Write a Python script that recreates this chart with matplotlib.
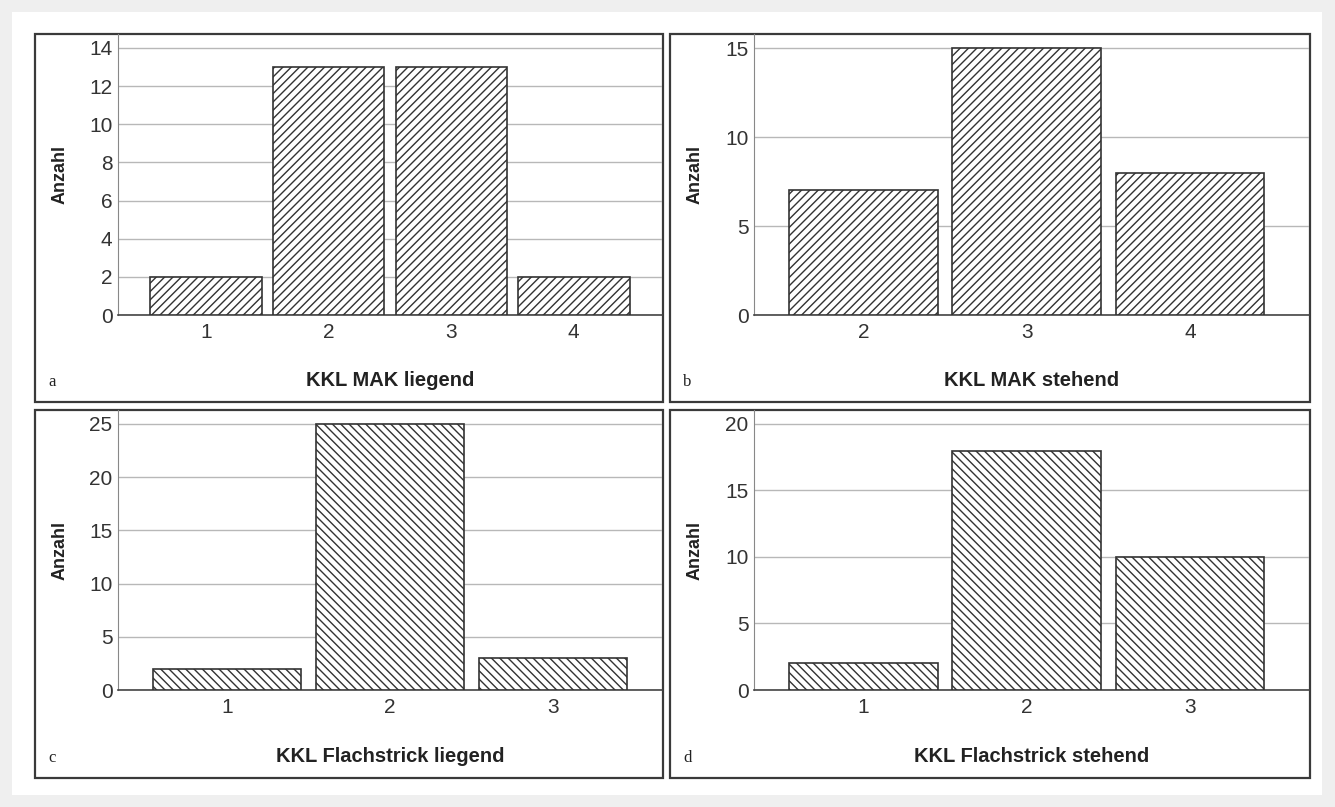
import matplotlib
matplotlib.use("Agg")
import matplotlib.pyplot as plt
from matplotlib.patches import Rectangle

# Häufigkeiten je Kategorie
kat_a = [1, 2, 3, 4]
anz_a = [2, 13, 13, 2]
kat_b = [2, 3, 4]
anz_b = [7, 15, 8]
kat_c = [1, 2, 3]
anz_c = [2, 25, 3]
kat_d = [1, 2, 3]
anz_d = [2, 18, 10]

titel = ["KKL MAK liegend", "KKL MAK stehend",
         "KKL Flachstrick liegend", "KKL Flachstrick stehend"]
buchst = ["a", "b", "c", "d"]
yticks = [[0, 2, 4, 6, 8, 10, 12, 14], [0, 5, 10, 15], [0, 5, 10, 15, 20, 25], [0, 5, 10, 15, 20]]
ymax = [14.73, 15.79, 26.3, 21.05]
xlims = [(0.28, 4.72), (1.33, 4.73), (0.33, 3.67), (0.33, 3.73)]
hatches = ["////", "////", "\\\\\\\\", "\\\\\\\\"]

W, H = 1335, 807
plt.rcParams['font.family'] = ['Liberation Sans', 'DejaVu Sans']
plt.rcParams['hatch.linewidth'] = 1.0
plt.rcParams['hatch.color'] = '#333333'

fig = plt.figure(figsize=(W / 100, H / 100), dpi=100, facecolor='#efefef')
fig.patches.append(Rectangle((12 / W, 1 - 795 / H), 1310 / W, 783 / H,
                             transform=fig.transFigure, facecolor='white',
                             edgecolor='none', zorder=0))


def px(l, t, r, b):
    return [l / W, 1 - b / H, (r - l) / W, (b - t) / H]


boxes = [(35, 34, 663, 402), (670, 34, 1310, 402), (35, 410, 663, 778), (670, 410, 1310, 778)]
achsen = [(118, 34, 662, 315), (754, 34, 1309, 315), (118, 410, 662, 690), (754, 410, 1309, 690)]
daten = [(kat_a, anz_a), (kat_b, anz_b), (kat_c, anz_c), (kat_d, anz_d)]

for i in range(4):
    l, t, r, b = boxes[i]
    fig.patches.append(Rectangle((l / W, 1 - b / H), (r - l) / W, (b - t) / H,
                                 transform=fig.transFigure, facecolor='white',
                                 edgecolor='#3a3a3a', linewidth=1.6, zorder=1))
    ax = fig.add_axes(px(*achsen[i]))
    ax.set_zorder(2)
    ax.patch.set_alpha(0)
    x, y = daten[i]
    ax.bar(x, y, width=0.91, facecolor='white', edgecolor='#333333',
           linewidth=1.2, hatch=hatches[i], zorder=3)
    ax.set_xlim(*xlims[i])
    ax.set_ylim(0, ymax[i])
    ax.set_xticks(x)
    ax.set_yticks(yticks[i])
    ax.grid(axis='y', color='#b8b8b8', linewidth=1.0, zorder=0)
    ax.set_axisbelow(True)
    ax.tick_params(length=0, labelsize=15, labelcolor='#333333')
    ax.tick_params(axis='x', pad=6)
    ax.tick_params(axis='y', pad=4)
    for s in ['top', 'right']:
        ax.spines[s].set_visible(False)
    ax.spines['left'].set_color('#888888')
    ax.spines['bottom'].set_color('#444444')
    ax.spines['bottom'].set_linewidth(1.2)
    ax.set_ylabel("Anzahl", fontsize=13, fontweight='bold', color='#222222')
    ax.yaxis.set_label_coords(-(achsen[i][0] - boxes[i][0] - 34) / (achsen[i][2] - achsen[i][0]), 0.5)
    cx = (achsen[i][0] + achsen[i][2]) / 2
    fig.text(cx / W, 1 - (boxes[i][3] - 22) / H, titel[i], ha='center', va='center',
             fontsize=14.5, fontweight='bold', color='#222222')
    fig.text((boxes[i][0] + 13) / W, 1 - (boxes[i][3] - 20) / H, buchst[i],
             ha='left', va='center', fontsize=12, color='#222222',
             family=['Liberation Serif', 'DejaVu Serif'])

fig.savefig("out.png", dpi=100, facecolor=fig.get_facecolor())
